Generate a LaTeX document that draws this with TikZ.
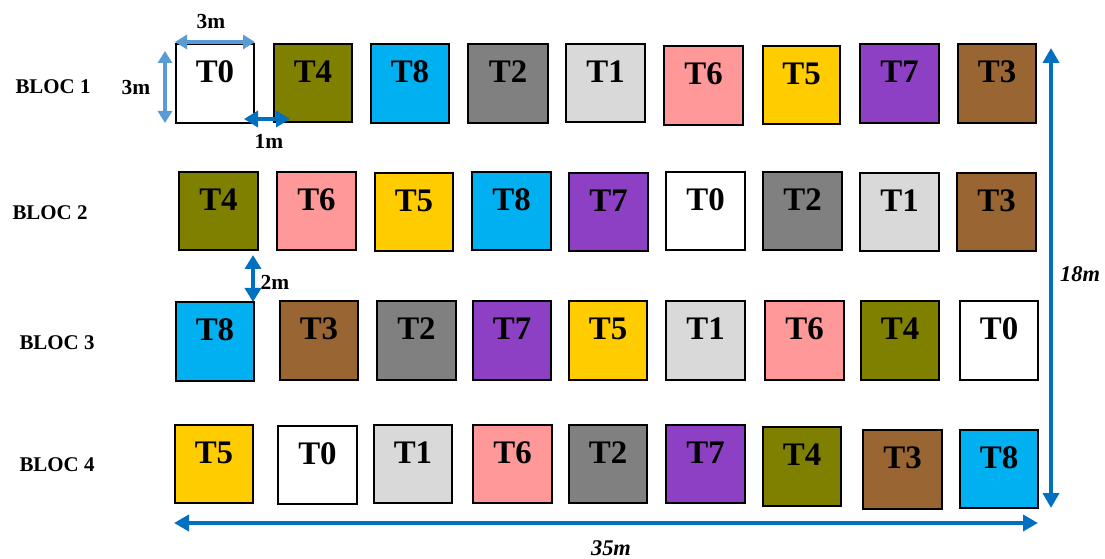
\documentclass[tikz,border=0pt]{standalone}
\usepackage{fontspec}
\setmainfont{Liberation Serif}
\usetikzlibrary{arrows.meta}

\definecolor{tolive}{HTML}{7F7F00}
\definecolor{tcyan}{HTML}{00B0F0}
\definecolor{tgray}{HTML}{808080}
\definecolor{tlight}{HTML}{D9D9D9}
\definecolor{tpink}{HTML}{FF9999}
\definecolor{tgold}{HTML}{FFCC00}
\definecolor{tpurple}{HTML}{8E40C4}
\definecolor{tbrown}{HTML}{996633}
\definecolor{lblue}{HTML}{5B9BD5}
\definecolor{dblue}{HTML}{0070C0}

\tikzset{
  tile/.style={draw=black, line width=1.4bp, inner sep=0pt,
    font=\fontsize{33}{33}\selectfont\bfseries, text depth=23bp},
  bloc/.style={font=\fontsize{21}{21}\selectfont\bfseries, inner sep=0pt},
  dimlabel/.style={font=\fontsize{21.5}{21.5}\selectfont\bfseries, inner sep=0pt},
  dimital/.style={font=\fontsize{22.5}{22.5}\selectfont\bfseries\itshape, inner sep=0pt},
  lightdim/.style={draw=lblue, line width=3.2bp,
    {Triangle[width=14bp,length=12bp]}-{Triangle[width=14bp,length=12bp]}},
  darkdim/.style={draw=dblue, line width=4.2bp,
    {Triangle[width=16bp,length=14bp]}-{Triangle[width=16bp,length=14bp]}},
  bigdim/.style={draw=dblue, line width=4bp,
    {Triangle[width=16bp,length=15bp]}-{Triangle[width=16bp,length=15bp]}},
}

% \plot{name}{x1}{y1}{x2}{y2}{fill}{label}
\newcommand\plot[7]{%
  \node[tile, fill=#6, minimum width={(#4-#2)*1bp}, minimum height={(#5-#3)*1bp}]
    (#1) at ({(#2+#4)/2},{(#3+#5)/2}) {#7};}

\begin{document}
\begin{tikzpicture}[x=1bp, y=-1bp]
\useasboundingbox[fill=white] (0,0) rectangle (1105,559);

% Block 1
\plot{a1}{176}{44}{254}{123}{white}{T0}
\plot{a2}{274}{44}{352}{122}{tolive}{T4}
\plot{a3}{371}{44}{449}{123}{tcyan}{T8}
\plot{a4}{468}{44}{548}{123}{tgray}{T2}
\plot{a5}{566}{44}{645}{122}{tlight}{T1}
\plot{a6}{664}{46}{743}{125}{tpink}{T6}
\plot{a7}{763}{46}{840}{124}{tgold}{T5}
\plot{a8}{860}{44}{939}{123}{tpurple}{T7}
\plot{a9}{958}{44}{1036}{123}{tbrown}{T3}

% Block 2
\plot{b1}{179}{172}{258}{250}{tolive}{T4}
\plot{b2}{277}{172}{356}{250}{tpink}{T6}
\plot{b3}{375}{173}{453}{251}{tgold}{T5}
\plot{b4}{472}{172}{551}{250}{tcyan}{T8}
\plot{b5}{569}{173}{648}{251}{tpurple}{T7}
\plot{b6}{666}{172}{745}{250}{white}{T0}
\plot{b7}{763}{172}{842}{250}{tgray}{T2}
\plot{b8}{860}{173}{939}{251}{tlight}{T1}
\plot{b9}{957}{173}{1036}{251}{tbrown}{T3}

% Block 3
\plot{c1}{176}{302}{254}{381}{tcyan}{T8}
\plot{c2}{280}{301}{358}{380}{tbrown}{T3}
\plot{c3}{377}{301}{456}{380}{tgray}{T2}
\plot{c4}{473}{301}{551}{380}{tpurple}{T7}
\plot{c5}{569}{301}{647}{380}{tgold}{T5}
\plot{c6}{666}{301}{745}{380}{tlight}{T1}
\plot{c7}{765}{301}{844}{380}{tpink}{T6}
\plot{c8}{861}{301}{939}{380}{tolive}{T4}
\plot{c9}{960}{301}{1038}{380}{white}{T0}

% Block 4
\plot{d1}{175}{425}{253}{503}{tgold}{T5}
\plot{d2}{278}{426}{357}{504}{white}{T0}
\plot{d3}{374}{425}{452}{503}{tlight}{T1}
\plot{d4}{473}{425}{552}{503}{tpink}{T6}
\plot{d5}{569}{425}{647}{503}{tgray}{T2}
\plot{d6}{666}{425}{745}{503}{tpurple}{T7}
\plot{d7}{763}{427}{841}{506}{tolive}{T4}
\plot{d8}{863}{430}{942}{509}{tbrown}{T3}
\plot{d9}{960}{430}{1038}{508}{tcyan}{T8}

% Block names
\node[bloc] (n1) at (53,87) {BLOC 1};
\node[bloc] (n2) at (50,213) {BLOC 2};
\node[bloc] (n3) at (57,343) {BLOC 3};
\node[bloc] (n4) at (57,465) {BLOC 4};

% Plot width and height
\coordinate (wl) at (175,42);
\coordinate (wr) at (255,42);
\draw[lightdim] (wl) -- (wr);
\node[dimlabel] (wlab) at (211,22) {3m};

\coordinate (ht) at (165,51);
\coordinate (hb) at (165,123);
\draw[lightdim] (ht) -- (hb);
\node[dimlabel] (hlab) at (136,88) {3m};

% Spacing between plots
\coordinate (gl) at (244,119);
\coordinate (gr) at (290,119);
\draw[darkdim] (gl) -- (gr);
\node[dimlabel] (glab) at (269,141) {1m};

% Spacing between blocks
\coordinate (bt) at (253,255);
\coordinate (bb) at (253,302);
\draw[darkdim] (bt) -- (bb);
\node[dimlabel] (blab) at (275,282) {2m};

% Overall dimensions
\coordinate (vt) at (1051,48);
\coordinate (vb) at (1051,508);
\draw[bigdim] (vt) -- (vb);
\node[dimital] (vlab) at (1080,274) {18m};

\coordinate (hl) at (174,523);
\coordinate (hr) at (1038,523);
\draw[bigdim] (hl) -- (hr);
\node[dimital] (hlab2) at (611,548) {35m};
\end{tikzpicture}
\end{document}
